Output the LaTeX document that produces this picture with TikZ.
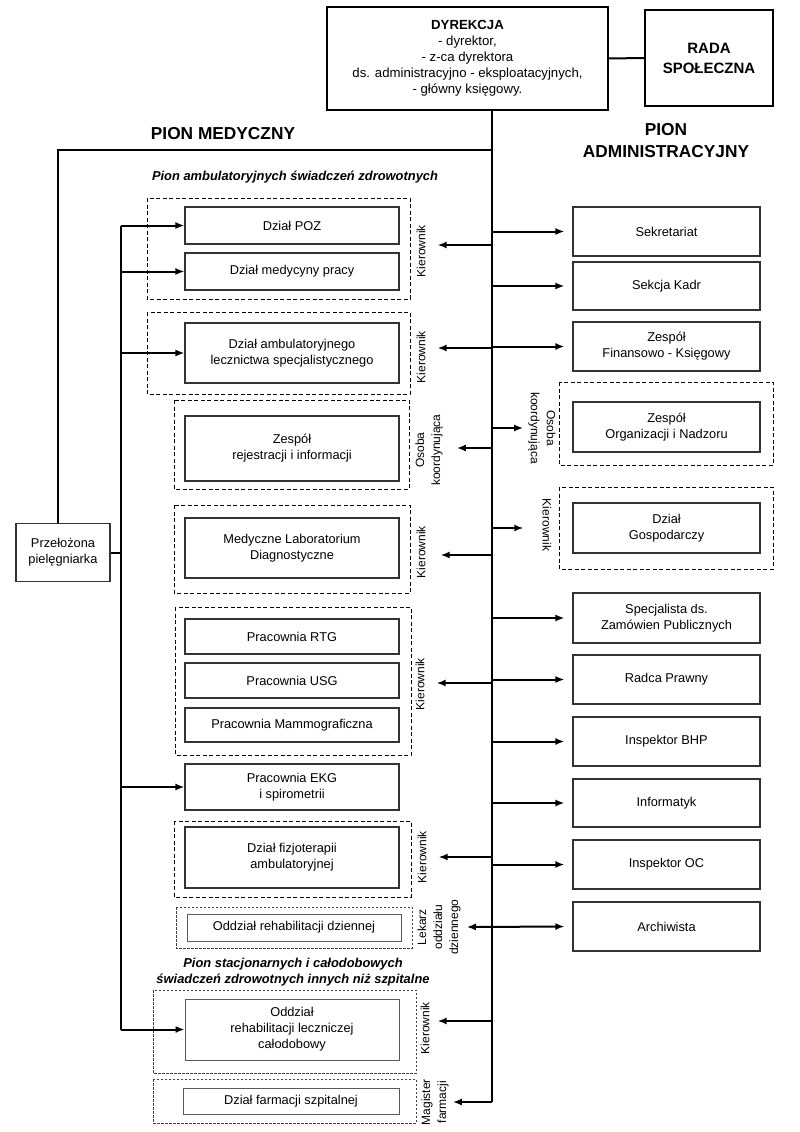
\documentclass[tikz,border=0pt]{standalone}
\usepackage{fontspec}
\setmainfont{Liberation Sans}
\usetikzlibrary{arrows.meta}

\begin{document}
\begin{tikzpicture}[x=1pt,y=-1pt]
\tikzset{unit/.style = {rectangle, draw=black!80, line width=1.1pt, fill=white, align=center, font=\fontsize{12.8}{16}\selectfont, inner sep=2pt}}
\tikzset{medunit/.style = {unit, minimum width=214pt}}
\tikzset{admunit/.style = {unit, minimum width=187pt}}
\tikzset{lightunit/.style = {medunit, draw=black!65, line width=0.9pt}}
\tikzset{grp/.style = {draw=black, line width=1pt, dash pattern=on 4pt off 2.5pt}}
\tikzset{finegrp/.style = {draw=black!75, line width=0.8pt, dash pattern=on 2.5pt off 1.5pt}}
\tikzset{role/.style = {align=center, font=\fontsize{12}{16}\selectfont, inner sep=1pt}}
\tikzset{link/.style = {line width=2pt}}
\tikzset{arr/.style = {line width=2pt, -{Latex[length=9pt,width=7pt]}}}
\tikzset{dblarr/.style = {line width=2pt, {Latex[length=9pt,width=7pt]}-{Latex[length=9pt,width=7pt]}}}
\tikzset{head/.style = {font=\bfseries\fontsize{17.3}{22}\selectfont, align=center}}
\tikzset{subhead/.style = {font=\bfseries\itshape\fontsize{12.9}{16}\selectfont, align=center}}

\fill[white] (0,0) rectangle (800,1132);
\useasboundingbox (0,0) rectangle (800,1132);

    \node[unit, font=\fontsize{13.2}{16}\selectfont, draw=black, line width=1.6pt, minimum width=281pt, minimum height=103pt] (dyr) at (467.5,58.5) {\textbf{DYREKCJA}\\- dyrektor,\\- z-ca dyrektora\\ds. administracyjno - eksploatacyjnych,\\- główny księgowy.};
    \node[unit, font=\bfseries\fontsize{15}{20}\selectfont, draw=black, line width=1.6pt, minimum width=128pt, minimum height=96pt] (rada) at (709,58) {RADA\\SPOŁECZNA};

\draw[link] (dyr.east) -- (rada.west);

    \node[head] (pmed) at (223,134) {PION MEDYCZNY};
    \node[head] (padm) at (666,141) {PION\\ADMINISTRACYJNY};
    \node[subhead] (pamb) at (295,177) {Pion ambulatoryjnych świadczeń zdrowotnych};
    \node[subhead] (pstac) at (293,972) {Pion stacjonarnych i całodobowych\\świadczeń zdrowotnych innych niż szpitalne};

\draw[grp] (147,198) rectangle (410,299);
\draw[grp] (147,312) rectangle (410,394);
\draw[grp] (174,400) rectangle (409,489);
\draw[grp] (174,505) rectangle (410,593);
\draw[grp] (175,607) rectangle (411,755);
\draw[grp] (174,821) rectangle (411,897);
\draw[finegrp] (176,907) rectangle (412,948);
\draw[finegrp] (153,990) rectangle (416,1073);
\draw[finegrp] (153,1079) rectangle (416,1123);
\draw[grp] (559,382) rectangle (773,465);
\draw[grp] (559,487) rectangle (773,569);

    \node[unit, minimum width=94pt, minimum height=58pt] (pp) at (63,552.5) {Przełożona\\pielęgniarka};

    \node[medunit, minimum height=37pt] (poz) at (292,225.5) {Dział POZ};
    \node[medunit, minimum height=37pt] (mp) at (292,271.5) {Dział medycyny pracy};
    \node[medunit, minimum height=60pt] (amb) at (292,353) {Dział ambulatoryjnego\\lecznictwa specjalistycznego};
    \node[medunit, minimum height=65pt] (rej) at (292,448.5) {Zespół\\rejestracji i informacji};
    \node[medunit, minimum height=60pt] (lab) at (292,548) {Medyczne Laboratorium\\Diagnostyczne};
    \node[medunit, minimum height=35pt] (rtg) at (292,636.5) {Pracownia RTG};
    \node[medunit, minimum height=35pt] (usg) at (292,680.5) {Pracownia USG};
    \node[medunit, minimum height=34pt] (mam) at (292,725) {Pracownia Mammograficzna};
    \node[medunit, minimum height=46pt] (ekg) at (292,787) {Pracownia EKG\\i spirometrii};
    \node[medunit, minimum height=61pt] (fiz) at (292,857.5) {Dział fizjoterapii\\ambulatoryjnej};
    \node[lightunit, minimum height=27pt] (dzien) at (294,927.5) {Oddział rehabilitacji dziennej};
    \node[lightunit, minimum height=61pt] (calo) at (292,1029.5) {Oddział\\rehabilitacji leczniczej\\całodobowy};
    \node[lightunit, minimum width=216pt, minimum height=26pt] (farm) at (291,1101) {Dział farmacji szpitalnej};

    \node[admunit, minimum height=49pt] (sekr) at (666.5,231.5) {Sekretariat};
    \node[admunit, minimum height=48pt] (kadr) at (666.5,286) {Sekcja Kadr};
    \node[admunit, minimum height=49pt] (fin) at (666.5,346.5) {Zespół\\Finansowo - Księgowy};
    \node[admunit, minimum height=50pt] (org) at (666.5,427) {Zespół\\Organizacji i Nadzoru};
    \node[admunit, minimum height=50pt] (gosp) at (666.5,528) {Dział\\Gospodarczy};
    \node[admunit, minimum height=50pt] (zamp) at (666.5,618) {Specjalista ds.\\Zamówien Publicznych};
    \node[admunit, minimum height=49pt] (radca) at (666.5,679.5) {Radca Prawny};
    \node[admunit, minimum height=49pt] (bhp) at (666.5,741.5) {Inspektor BHP};
    \node[admunit, minimum height=48pt] (infor) at (666.5,803) {Informatyk};
    \node[admunit, minimum height=49pt] (insoc) at (666.5,864.5) {Inspektor OC};
    \node[admunit, minimum height=49pt] (arch) at (666.5,926.5) {Archiwista};

    \node[role, rotate=90] (kier1) at (421,251) {Kierownik};
    \node[role, rotate=90] (kier2) at (421,357) {Kierownik};
    \node[role, rotate=90] (osob3) at (429,450) {Osoba\\koordynująca};
    \node[role, rotate=90] (kier4) at (421,552) {Kierownik};
    \node[role, rotate=90] (kier5) at (420,684) {Kierownik};
    \node[role, rotate=90] (kier6) at (422,857) {Kierownik};
    \node[role, rotate=90] (lek7) at (439,927) {Lekarz\\oddziału\\dziennego};
    \node[role, rotate=90] (kier8) at (425,1028) {Kierownik};
    \node[role, rotate=90] (mag9) at (435,1102) {Magister\\farmacji};
    \node[role, rotate=-90] (osob10) at (542,428) {Osoba\\koordynująca};
    \node[role, rotate=-90] (kier11) at (547,525) {Kierownik};

\coordinate (sbot) at (492,1102);
\coordinate (smed) at (492,150);
\coordinate (ltop) at (121,225.5);
\coordinate (lbot) at (121,1029.5);

\draw[link] (dyr.south -| sbot) -- (sbot);
\draw[link] (smed) -| ([xshift=-5pt]pp.north);
\draw[link] (ltop) -- (lbot);
\draw[link] (pp.east) -- (pp.east -| ltop);

\draw[arr] (ltop) -- (poz.west);
\draw[arr] (mp.west -| ltop) -- (mp.west);
\draw[arr] (amb.west -| ltop) -- (amb.west);
\draw[arr] (ekg.west -| ltop) -- (ekg.west);
\draw[arr] (lbot) -- (calo.west);

\draw[arr, shorten >=8pt] (sekr.west -| sbot) -- (sekr.west);
\draw[arr, shorten >=8pt] (kadr.west -| sbot) -- (kadr.west);
\draw[arr, shorten >=8pt] (fin.west -| sbot) -- (fin.west);
\draw[arr, shorten >=8pt] (zamp.west -| sbot) -- (zamp.west);
\draw[arr, shorten >=8pt] (radca.west -| sbot) -- (radca.west);
\draw[arr, shorten >=8pt] (bhp.west -| sbot) -- (bhp.west);
\draw[arr, shorten >=8pt] (infor.west -| sbot) -- (infor.west);
\draw[arr, shorten >=8pt] (insoc.west -| sbot) -- (insoc.west);
\draw[dblarr, shorten <=5pt, shorten >=8pt] (lek7.south) -- (arch.west);
\draw[arr, shorten >=4pt] (osob10.south -| sbot) -- (osob10.south);
\draw[arr, shorten >=18pt] (gosp.west -| sbot) -- (gosp.west -| kier11.south);

\coordinate (a1) at (492,245);
\coordinate (a2) at (492,348);
\coordinate (a3) at (492,448);
\coordinate (a4) at (492,555);
\coordinate (a5) at (492,683);
\coordinate (a6) at (492,857);
\coordinate (a8) at (492,1021);

\draw[arr, shorten >=11pt] (a1) -- (a1 -| kier1.south);
\draw[arr, shorten >=11pt] (a2) -- (a2 -| kier2.south);
\draw[arr, shorten >=13pt] (a3) -- (a3 -| osob3.south);
\draw[arr, shorten >=14pt] (a4) -- (a4 -| kier4.south);
\draw[arr, shorten >=11pt] (a5) -- (a5 -| kier5.south);
\draw[arr, shorten >=11pt] (a6) -- (a6 -| kier6.south);
\draw[arr, shorten >=7pt] (a8) -- (a8 -| kier8.south);
\draw[arr, shorten >=3pt] (sbot) -- (sbot -| mag9.south);

\end{tikzpicture}
\end{document}
